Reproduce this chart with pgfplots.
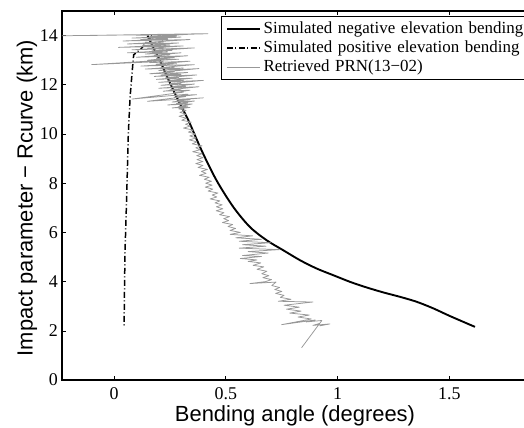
\documentclass[border=0pt]{standalone}
\usepackage{fontspec}
\setmainfont{Liberation Serif}
\newfontfamily\labelfont{Liberation Sans}
\usepackage{pgfplots}
\pgfplotsset{compat=1.18}
\definecolor{retr}{RGB}{152,152,152}
\begin{document}
\begin{tikzpicture}
\useasboundingbox (-62bp,-48bp) rectangle (462bp,380bp);
\begin{axis}[
  scale only axis,
  width=466bp, height=369bp,
  at={(0,0)}, anchor=south west,
  xmin=-0.2327, xmax=1.8523, ymin=0, ymax=15,
  xtick={0,0.5,1,1.5}, ytick={0,2,4,6,8,10,12,14},
  tick align=inside, major tick length=4bp,
  axis line style={line width=1.3pt},
  every tick/.style={black, line width=0.6pt},
  /pgf/number format/assume math mode=true,
  tick label style={font=\fontsize{18}{20}\selectfont},
  xticklabel style={inner sep=0pt, yshift=-7bp},
  yticklabel style={inner sep=0pt, xshift=-4bp},
  xlabel={Bending angle (degrees)},
  ylabel={Impact parameter − Rcurve (km)},
  xlabel style={font=\labelfont\fontsize{22}{24}\selectfont, at={(axis description cs:0,0)}, anchor=base, xshift=233bp, yshift=-41.7bp},
  ylabel style={font=\labelfont\fontsize{22}{24}\selectfont, at={(axis description cs:0,0.493)}, anchor=base, yshift=29.3bp},
  legend cell align=left,
  legend image code/.code={\draw[#1] (0bp,0bp) -- (33bp,0bp);},
  legend style={at={(rel axis cs:0,1)}, anchor=north west, xshift=159bp, yshift=-4.7bp,
    draw=black, line width=1.1pt, fill=white, inner xsep=4.5bp, inner ysep=4bp,
    font=\fontsize{17}{19}\selectfont, row sep=2.2bp,
    nodes={inner xsep=2.7bp, inner ysep=0pt, text height=13bp, text depth=4bp, text width=268bp}},
  clip=true,
]
\addplot[black, line width=1.9pt, line join=round, smooth, tension=0.5] coordinates {
(0.150,14.0) (0.177,13.49) (0.205,13.00) (0.230,12.48) (0.282,11.47) (0.334,10.53)
(0.392,9.33) (0.459,8.11) (0.534,7.03) (0.608,6.22) (0.683,5.68) (0.758,5.27)
(0.832,4.87) (0.907,4.53) (0.981,4.26) (1.056,3.99) (1.131,3.76) (1.205,3.56)
(1.280,3.38) (1.354,3.18) (1.429,2.91) (1.503,2.60) (1.615,2.16)
};
\addlegendentry{Simulated negative elevation bending}
\addplot[black, line width=1.5pt, dash pattern=on 6bp off 2.5bp on 1bp off 2.5bp] coordinates {
(0.170,14.0) (0.120,13.45) (0.088,13.22) (0.080,12.40) (0.072,11.50) (0.064,10.00)
(0.057,7.56) (0.049,5.13) (0.045,2.16)
};
\addlegendentry{Simulated positive elevation bending}
\addplot[retr, line width=0.75pt, line join=round] coordinates {
(-0.25,13.99) (0.42,14.08) (0.00,14.02) (0.40,14.07) (-0.15,14.0) (0.36,14.06) (0.10,14.01) (0.33,14.05)
(0.16,13.96) (0.28,13.98) (0.08,13.9) (0.30,13.94) (0.12,13.84) (0.24,13.86) (0.04,13.78) (0.34,13.84)
(0.14,13.72) (0.22,13.74) (0.06,13.66) (0.29,13.7) (0.13,13.6) (0.25,13.62) (0.02,13.52) (0.31,13.58)
(0.15,13.48) (0.22,13.5) (0.08,13.42) (0.36,13.5) (0.17,13.38) (0.26,13.4) (0.06,13.3) (0.24,13.34)
(0.14,13.25) (0.30,13.3) (0.18,13.2) (0.25,13.22) (0.10,13.12) (0.33,13.18) (0.19,13.08) (0.27,13.1)
(0.15,13.0) (0.29,13.04) (-0.10,12.82) (0.22,12.95) (0.16,12.9) (0.34,12.96) (0.19,12.84) (0.28,12.86)
(0.12,12.76) (0.36,12.82) (0.21,12.7) (0.27,12.72) (0.14,12.64) (0.31,12.68) (0.2,12.58) (0.38,12.66)
(0.22,12.52) (0.27,12.54) (0.16,12.45) (0.33,12.5) (0.21,12.4) (0.30,12.42) (0.18,12.34) (0.37,12.4)
(0.23,12.28) (0.29,12.3) (0.19,12.22) (0.35,12.27) (0.24,12.16) (0.31,12.18) (0.20,12.1) (0.40,12.18)
(0.25,12.05) (0.30,12.06) (0.21,11.98) (0.36,12.03) (0.26,11.92) (0.32,11.94) (0.20,11.86) (0.38,11.92)
(0.25,11.8) (0.30,11.82) (0.22,11.74) (0.34,11.78) (0.27,11.68) (0.31,11.7) (0.08,11.42) (0.33,11.62)
(0.26,11.56) (0.37,11.6) (0.27,11.5) (0.32,11.52) (0.15,11.33) (0.40,11.47) (0.28,11.38) (0.34,11.4)
(0.26,11.3) (0.36,11.34) (0.28,11.24) (0.33,11.26) (0.24,11.18) (0.35,11.22) (0.29,11.12) (0.33,11.13)
(0.26,11.06) (0.34,11.08) (0.29,11.02)
(0.322,10.96) (0.295,10.88) (0.323,10.80) (0.291,10.72) (0.324,10.64) (0.303,10.56) (0.346,10.48) (0.320,10.40)
(0.341,10.32) (0.311,10.24) (0.355,10.16) (0.333,10.08) (0.365,10.00) (0.339,9.92) (0.368,9.84) (0.337,9.76)
(0.371,9.68) (0.350,9.60) (0.394,9.52) (0.366,9.44) (0.385,9.36) (0.352,9.28) (0.394,9.20) (0.370,9.12)
(0.399,9.04) (0.371,8.96) (0.398,8.88) (0.366,8.80) (0.398,8.72) (0.376,8.64) (0.418,8.56) (0.391,8.48)
(0.412,8.40) (0.382,8.32) (0.426,8.24) (0.404,8.16) (0.436,8.08) (0.410,8.00) (0.439,7.92) (0.408,7.84)
(0.442,7.76) (0.421,7.68) (0.465,7.60) (0.439,7.52) (0.460,7.44) (0.430,7.36) (0.474,7.28) (0.452,7.20)
(0.484,7.12) (0.458,7.04) (0.487,6.96) (0.457,6.88) (0.492,6.80) (0.472,6.72) (0.517,6.64) (0.491,6.56)
(0.513,6.48) (0.485,6.40) (0.531,6.32) (0.510,6.24) (0.544,6.16) (0.519,6.08) (0.565,6.00) (0.520,5.92)
(0.620,5.86) (0.545,5.78) (0.660,5.72) (0.560,5.64) (0.700,5.58) (0.575,5.50) (0.680,5.44) (0.560,5.36)
(0.740,5.30) (0.600,5.22) (0.690,5.16) (0.575,5.06) (0.660,5.02) (0.565,4.94) (0.640,4.88) (0.600,4.82)
(0.657,4.76) (0.622,4.66) (0.670,4.60) (0.640,4.50) (0.684,4.42) (0.661,4.32) (0.693,4.24) (0.666,4.16)
(0.705,4.08) (0.678,4.00) (0.608,3.92) (0.725,3.98) (0.706,3.84) (0.741,3.76) (0.719,3.68) (0.751,3.60)
(0.723,3.52) (0.761,3.44) (0.744,3.36) (0.792,3.28) (0.735,3.20) (0.890,3.17) (0.761,3.04) (0.829,2.96)
(0.772,2.88) (0.837,2.80) (0.786,2.72) (0.874,2.64) (0.823,2.56) (0.883,2.48) (0.750,2.25) (0.900,2.44)
(0.860,2.36) (0.930,2.42) (0.840,1.32) (0.920,2.30) (0.890,2.22) (0.966,2.28) (0.920,2.20)
};
\addlegendentry{Retrieved PRN(13−02)}
\end{axis}
\end{tikzpicture}
\end{document}
